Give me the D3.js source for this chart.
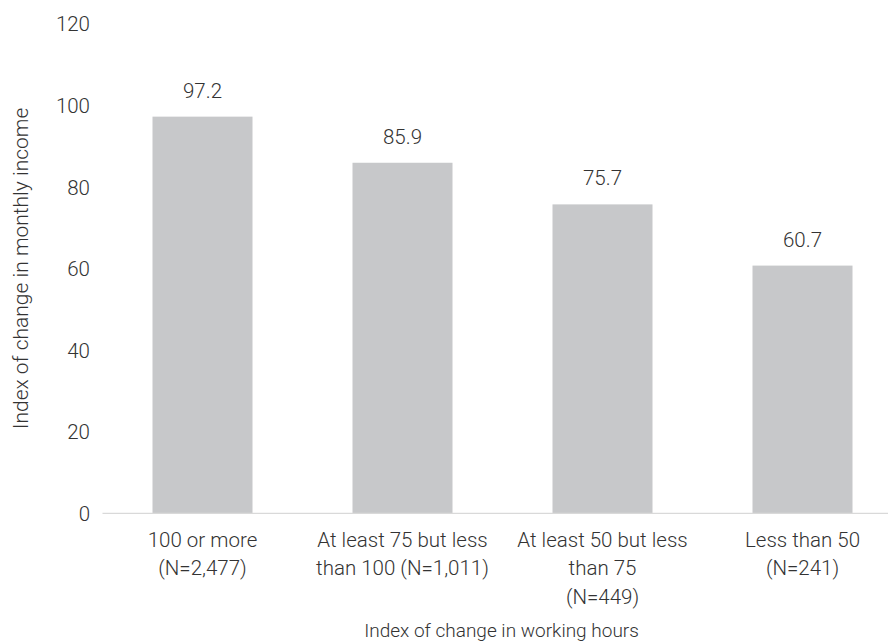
<!DOCTYPE html>
<html>
<head>
<meta charset="utf-8">
<script src="https://cdn.jsdelivr.net/npm/d3@7"></script>
<style>
  html, body { margin: 0; padding: 0; background: #fff; }
  svg text { font-family: "Roboto", "Liberation Sans", sans-serif; font-weight: 300; fill: #333; }
</style>
</head>
<body>
<svg id="chart" width="888" height="641"></svg>
<script>
// Income index by band of change in working hours
const categories = [
  ["100 or more", "(N=2,477)"],
  ["At least 75 but less", "than 100 (N=1,011)"],
  ["At least 50 but less", "than 75", "(N=449)"],
  ["Less than 50", "(N=241)"]
];
const values = [97.2, 85.9, 75.7, 60.7];
const yTicks = [0, 20, 40, 60, 80, 100, 120];
const yTitle = "Index of change in monthly income";
const xTitle = "Index of change in working hours";

const svg = d3.select("#chart");
const fontSize = 20.5;

const x = d3.scaleBand()
  .domain(d3.range(categories.length))
  .range([102.5, 902.5])
  .paddingInner(0.5)
  .paddingOuter(0.25);

const y = d3.scaleLinear().domain([0, 120]).range([513.3, 23.6]);

// y tick labels (no axis line, no gridlines)
const yAxis = svg.append("g")
  .attr("transform", "translate(98,0)")
  .call(d3.axisLeft(y).tickValues(yTicks).tickSize(0).tickPadding(8));
yAxis.select(".domain").remove();
yAxis.selectAll("text")
  .style("font-size", fontSize + "px")
  .attr("fill", null)
  .attr("dy", "0.35em");

// bars
svg.append("g").selectAll("rect")
  .data(values)
  .join("rect")
  .attr("x", (d, i) => x(i))
  .attr("y", d => y(d))
  .attr("width", x.bandwidth())
  .attr("height", d => y(0) - y(d))
  .attr("fill", "#c7c8ca");

// baseline
svg.append("line")
  .attr("x1", 102.5).attr("x2", 902.5)
  .attr("y1", y(0)).attr("y2", y(0))
  .attr("stroke", "#d9d9d9")
  .attr("stroke-width", 1.3);

// value labels
svg.append("g").selectAll("text")
  .data(values)
  .join("text")
  .attr("x", (d, i) => x(i) + x.bandwidth() / 2)
  .attr("y", d => y(d) - 19)
  .attr("text-anchor", "middle")
  .style("font-size", fontSize + "px")
  .text(d => d.toFixed(1));

// category labels, one tspan per line
const cat = svg.append("g").selectAll("text")
  .data(categories)
  .join("text")
  .attr("text-anchor", "middle")
  .attr("transform", (d, i) => `translate(${x(i) + x.bandwidth() / 2},546.5)`)
  .style("font-size", fontSize + "px");
cat.selectAll("tspan")
  .data(d => d)
  .join("tspan")
  .attr("x", 0)
  .attr("y", (d, j) => j * 28.5)
  .text(d => d);

// axis titles
svg.append("text")
  .attr("x", 501.5)
  .attr("y", 637)
  .attr("text-anchor", "middle")
  .style("font-size", "19px")
  .text(xTitle);

svg.append("text")
  .attr("transform", `translate(28,${(y(0) + y(120)) / 2}) rotate(-90)`)
  .attr("text-anchor", "middle")
  .style("font-size", "21px")
  .text(yTitle);
</script>
</body>
</html>
